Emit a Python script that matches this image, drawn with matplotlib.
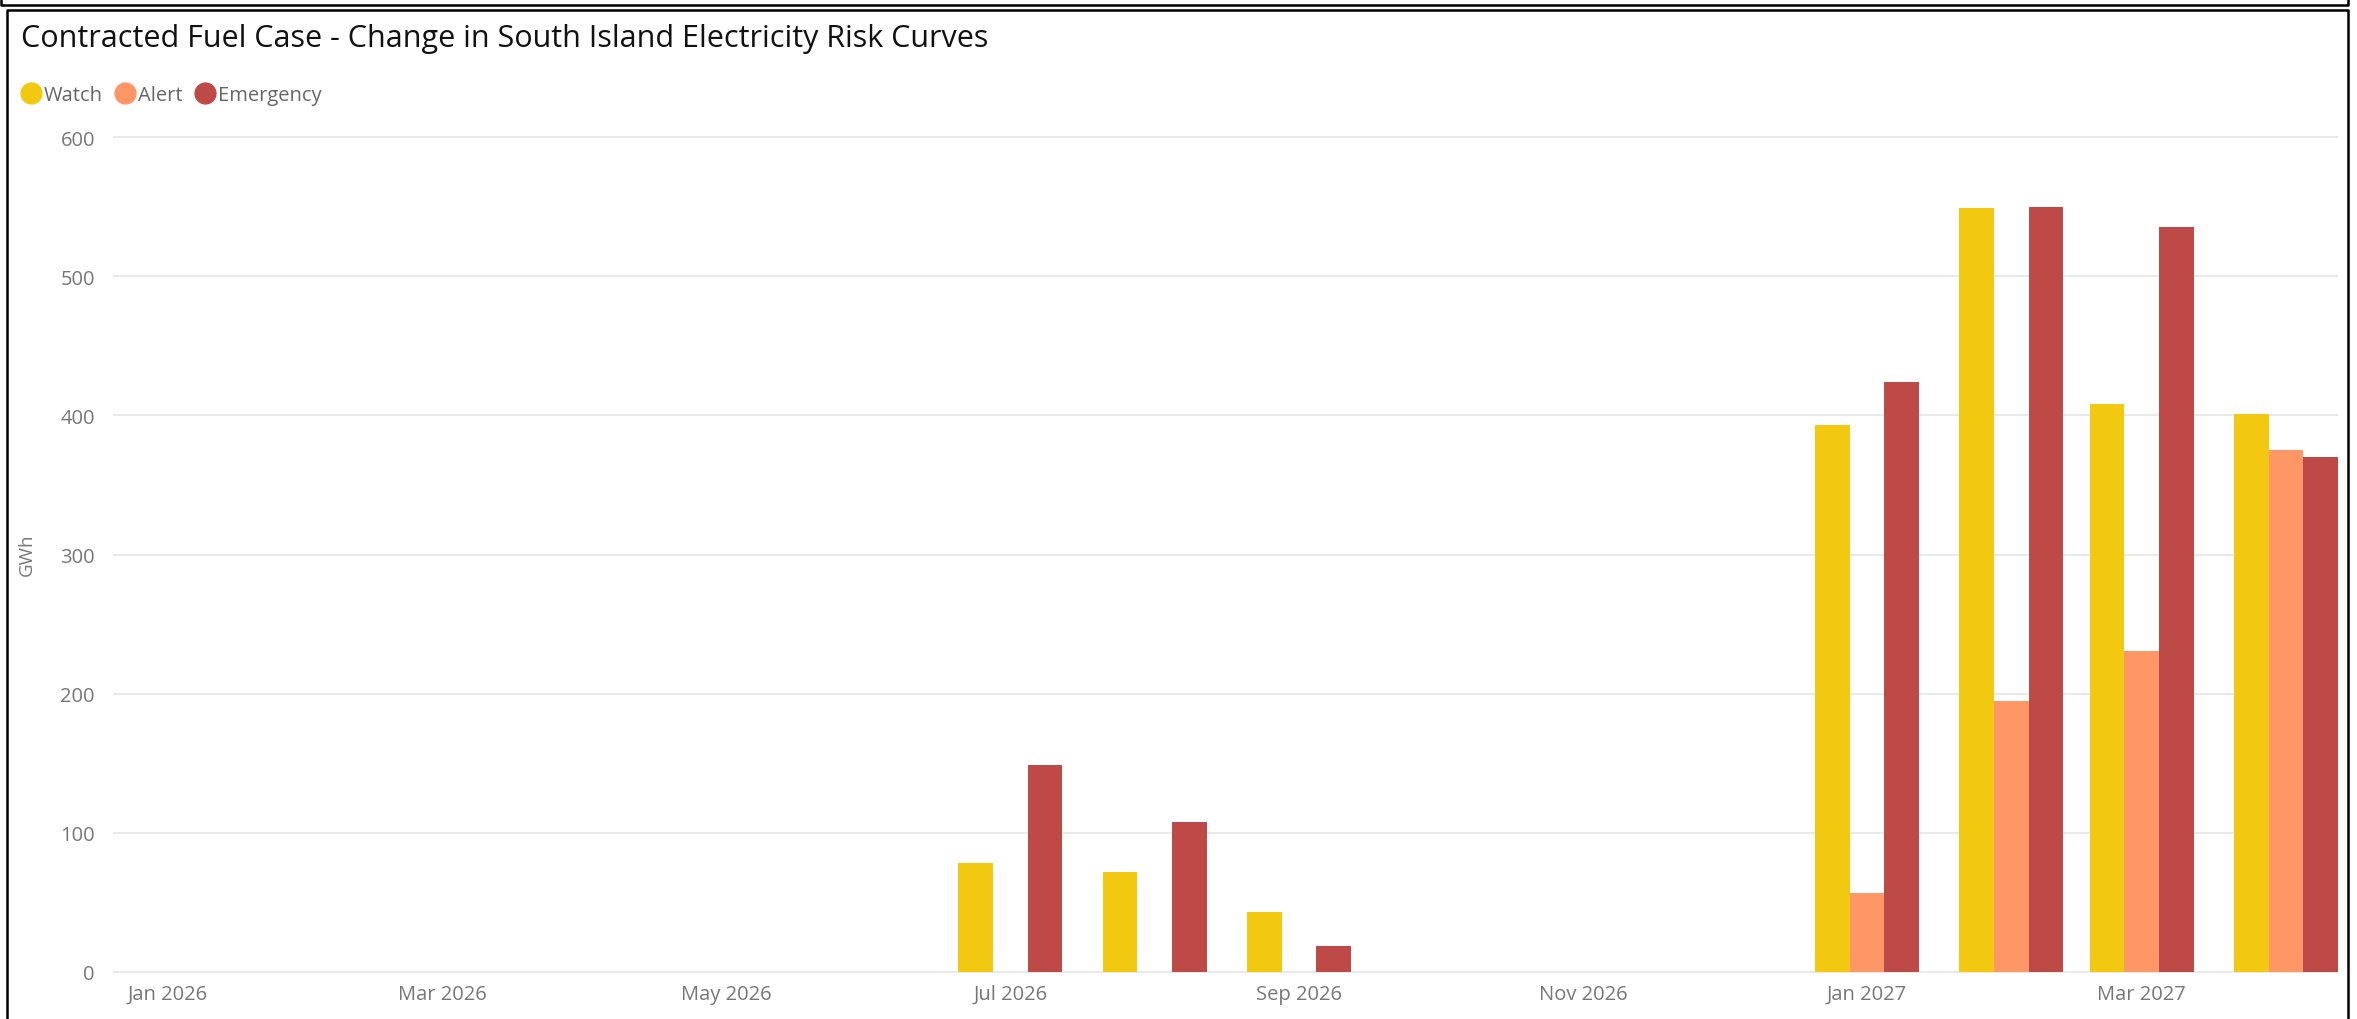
import datetime as dt

import matplotlib
matplotlib.use("Agg")
import matplotlib.pyplot as plt
import matplotlib.dates as mdates
from matplotlib.lines import Line2D

# monthly change in risk curves (GWh)
months = [dt.date(2026, m, 1) for m in range(1, 13)] + [dt.date(2027, m, 1) for m in range(1, 5)]
watch = [0, 0, 0, 0, 0, 0, 78, 72, 43, 0, 0, 0, 393, 549, 408, 401]
alert = [0, 0, 0, 0, 0, 0, 0, 0, 0, 0, 0, 0, 57, 195, 231, 375]
emergency = [0, 0, 0, 0, 0, 0, 149, 108, 19, 0, 0, 0, 424, 550, 535, 370]

series = [("Watch", watch, "#F2C811"),
          ("Alert", alert, "#FE9666"),
          ("Emergency", emergency, "#BE4A47")]

W, H = 2357, 1020
plt.rcParams["font.family"] = ["Open Sans", "DejaVu Sans"]

fig = plt.figure(figsize=(W / 100, H / 100), dpi=100)


def px(x, y):
    return x / W, 1 - y / H


# plot area
y0, y1 = -1.5, 602
scale = (973 - 138) / 600.0
top_px = 973 - y1 * scale
bot_px = 973 - y0 * scale
ax_left, ax_right = 113, 2338
ax = fig.add_axes([ax_left / W, 1 - bot_px / H, (ax_right - ax_left) / W, (bot_px - top_px) / H])

x = mdates.date2num(months)
bw = 7.45
for i, (name, vals, col) in enumerate(series):
    ax.bar(x + (i - 1) * bw, vals, width=bw, color=col, label=name, zorder=3)

ax.set_ylim(y0, y1)
ax.set_xlim(mdates.date2num(dt.date(2026, 1, 1)) - 11.75,
            mdates.date2num(dt.date(2027, 4, 1)) + 11.2)
ax.set_yticks(range(0, 601, 100))
ax.yaxis.grid(True, color="#E9E9E9", lw=1.5, zorder=0)
ax.xaxis.set_major_locator(mdates.MonthLocator(bymonth=[1, 3, 5, 7, 9, 11]))
ax.xaxis.set_major_formatter(mdates.DateFormatter("%b %Y"))
for s in ax.spines.values():
    s.set_visible(False)
ax.tick_params(axis="both", length=0, labelsize=14.5, labelcolor="#777777")
ax.tick_params(axis="x", pad=7)
ax.tick_params(axis="y", pad=13)
ax.set_ylabel("GWh", color="#777777", fontsize=13.5)
ax.yaxis.set_label_coords((36 - ax_left) / (ax_right - ax_left), 0.5)

# title and legend
tx, ty = px(21, 47)
fig.text(tx, ty, "Contracted Fuel Case - Change in South Island Electricity Risk Curves",
         fontsize=22, color="#111111", va="baseline", ha="left")

handles = [Line2D([], [], ls="none", marker="o", ms=15, color=c, label=n)
           for n, _, c in series]
lx, ly = px(21, 96)
fig.legend(handles=handles, loc="center left", bbox_to_anchor=(lx, ly), ncol=3,
           frameon=False, fontsize=14.5, labelcolor="#666666", handlelength=1.0,
           handletextpad=0.15, columnspacing=0.6, borderpad=0, borderaxespad=0)

# frame lines
def frame(xs, ys):
    xx = [v / W for v in xs]
    yy = [1 - v / H for v in ys]
    fig.add_artist(Line2D(xx, yy, color="black", lw=1.8, solid_capstyle="butt"))

frame([1, 1, 2348, 2348], [0, 6, 6, 0])
frame([7, 7, 2347.5, 2347.5], [H, 11, 11, H])

fig.savefig("out.png", dpi=100, facecolor="white")
